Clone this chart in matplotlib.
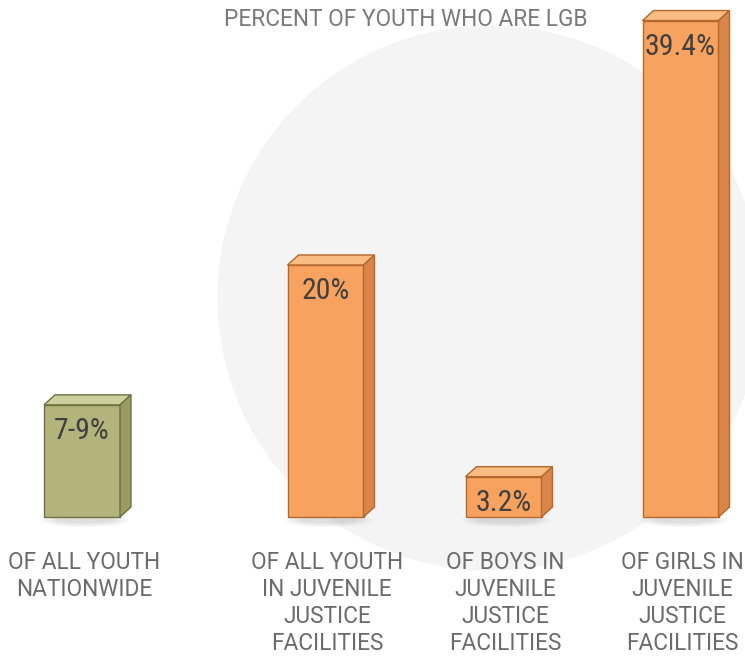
import matplotlib
matplotlib.use("Agg")
import matplotlib.pyplot as plt
from matplotlib.patches import Polygon, Ellipse

categories = ["OF ALL YOUTH\nNATIONWIDE",
              "OF ALL YOUTH\nIN JUVENILE\nJUSTICE\nFACILITIES",
              "OF BOYS IN\nJUVENILE\nJUSTICE\nFACILITIES",
              "OF GIRLS IN\nJUVENILE\nJUSTICE\nFACILITIES"]
values = [8.9, 20, 3.2, 39.4]
value_labels = ["7-9%", "20%", "3.2%", "39.4%"]
title = "PERCENT OF YOUTH WHO ARE LGB"

x_pos = [82, 325.5, 503.5, 680.5]
bar_w = 76
colors = ["green", "orange", "orange", "orange"]
palette = {
    "green": dict(front="#B3B47B", top="#CDCF9C", side="#999B62", edge="#6F7142"),
    "orange": dict(front="#F7A35F", top="#F9BD84", side="#DA8549", edge="#B3672C"),
}

plt.rcParams['font.family'] = ['Roboto', 'DejaVu Sans']
cond = ['Roboto Condensed', 'Roboto', 'DejaVu Sans']

fig = plt.figure(figsize=(7.45, 6.56), dpi=100)
ax = fig.add_axes([0, 0, 1, 1])
px_per_unit = 12.6
base_px = 139
ax.set_xlim(0, 745)
ax.set_ylim(-base_px / px_per_unit, (656 - base_px) / px_per_unit)
ax.axis("off")

# background circle
ax.add_patch(Ellipse((490 / 745, 1 - 298 / 656), 545 / 745, 545 / 656,
                     transform=ax.transAxes, facecolor="#F4F4F4",
                     edgecolor="none", zorder=0))

dx = 11
dy = 10 / px_per_unit

# shadows
for x in x_pos:
    for i, a in enumerate([0.05, 0.05, 0.06, 0.07]):
        w = bar_w * (1.15 - i * 0.12)
        ax.add_patch(Ellipse((x + 3, -0.25), w, 1.1 - i * 0.2,
                             facecolor="#707070", alpha=a, edgecolor="none", zorder=1))

bars = ax.bar(x_pos, values, width=bar_w, zorder=3)
for b, c, v, lab in zip(bars, colors, values, value_labels):
    p = palette[c]
    b.set_facecolor(p["front"])
    b.set_edgecolor(p["edge"])
    b.set_linewidth(1.0)
    x0 = b.get_x()
    x1 = x0 + b.get_width()
    h = b.get_height()
    top = Polygon([(x0, h), (x0 + dx, h + dy), (x1 + dx, h + dy), (x1, h)],
                  closed=True, facecolor=p["top"], edgecolor=p["edge"], lw=1.0, zorder=3)
    side = Polygon([(x1, 0), (x1 + dx, dy), (x1 + dx, h + dy), (x1, h)],
                   closed=True, facecolor=p["side"], edgecolor=p["edge"], lw=1.0, zorder=3)
    ax.add_patch(top)
    ax.add_patch(side)
    ax.text(x0 + b.get_width() / 2, h - 0.95, lab, ha="center", va="top",
            fontsize=21.5, color="#404040", family=cond, zorder=4)

for x, cat in zip(x_pos, categories):
    ax.text(x + 1.8, -2.7, cat, ha="center", va="top", fontsize=16.3,
            color="#6B6B6B", linespacing=1.22, zorder=4)

ax.text(406, (656 - 20 - base_px) / px_per_unit, title, ha="center", va="center",
        fontsize=16.3, color="#7A7A7A", zorder=4)

fig.savefig("out.png", dpi=100, facecolor="white")
